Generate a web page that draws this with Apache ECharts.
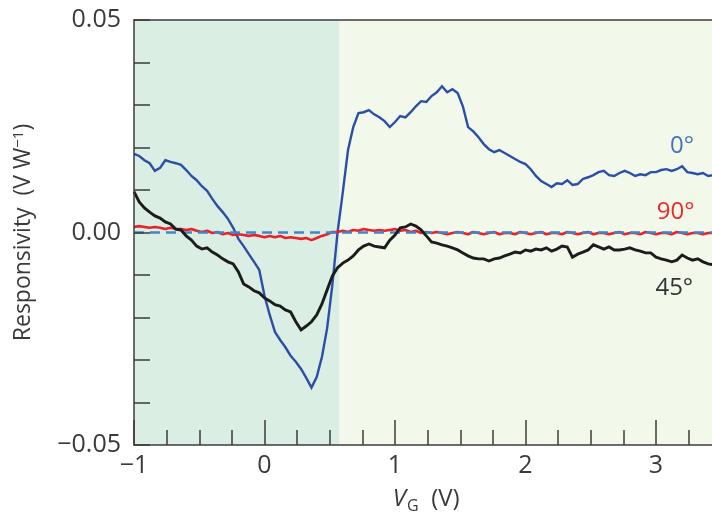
<!DOCTYPE html>
<html>
<head>
<meta charset="utf-8">
<script src="https://cdn.jsdelivr.net/npm/echarts@6/dist/echarts.min.js"></script>
<style>
  html, body { margin: 0; padding: 0; background: #ffffff; overflow: hidden; }
  #frame { width: 712px; height: 522px; overflow: hidden; }
  /* the plot runs past the right edge of the frame, so the canvas is wider */
  #chart { width: 790px; height: 522px; }
</style>
</head>
<body>
<div id="frame"><div id="chart"></div></div>
<script>
// Gate-voltage sweep: samples every 0.04 V starting at -1 V
const VG_START = -1.0;
const VG_STEP = 0.04;

// Responsivity (V/W) for polarization angle 0°
const resp0 = [
  0.0185, 0.0180, 0.0170, 0.0163, 0.0145, 0.0152, 0.0170, 0.0166, 0.0163, 0.0159,
  0.0147, 0.0133, 0.0123, 0.0109, 0.0098, 0.0079, 0.0062, 0.0048, 0.0032, 0.0011,
  -0.0015, -0.0032, -0.0051, -0.0069, -0.0088, -0.0149, -0.0194, -0.0234, -0.0253, -0.0270,
  -0.0290, -0.0304, -0.0321, -0.0342, -0.0365, -0.0340, -0.0293, -0.0225, -0.0123, 0.0001,
  0.0095, 0.0194, 0.0248, 0.0281, 0.0283, 0.0288, 0.0278, 0.0271, 0.0262, 0.0248,
  0.0260, 0.0274, 0.0271, 0.0283, 0.0297, 0.0309, 0.0307, 0.0321, 0.0330, 0.0344,
  0.0330, 0.0337, 0.0328, 0.0297, 0.0248, 0.0238, 0.0224, 0.0208, 0.0196, 0.0189,
  0.0194, 0.0187, 0.0180, 0.0173, 0.0166, 0.0161, 0.0149, 0.0133, 0.0121, 0.0114,
  0.0107, 0.0116, 0.0114, 0.0123, 0.0112, 0.0114, 0.0126, 0.0130, 0.0135, 0.0142,
  0.0145, 0.0135, 0.0133, 0.0140, 0.0145, 0.0140, 0.0133, 0.0137, 0.0135, 0.0142,
  0.0142, 0.0147, 0.0149, 0.0145, 0.0149, 0.0156, 0.0142, 0.0140, 0.0137, 0.0140,
  0.0133, 0.0135
];

// Responsivity (V/W) for polarization angle 45°
const resp45 = [
  0.0096, 0.0072, 0.0058, 0.0048, 0.0039, 0.0034, 0.0025, 0.0020, 0.0008, 0.0006,
  -0.0008, -0.0018, -0.0032, -0.0039, -0.0036, -0.0046, -0.0053, -0.0062, -0.0069, -0.0074,
  -0.0093, -0.0121, -0.0128, -0.0137, -0.0142, -0.0154, -0.0161, -0.0170, -0.0173, -0.0182,
  -0.0187, -0.0210, -0.0229, -0.0220, -0.0210, -0.0194, -0.0168, -0.0135, -0.0102, -0.0083,
  -0.0072, -0.0065, -0.0055, -0.0041, -0.0032, -0.0027, -0.0032, -0.0034, -0.0036, -0.0018,
  -0.0006, 0.0011, 0.0013, 0.0020, 0.0015, 0.0006, -0.0008, -0.0022, -0.0025, -0.0029,
  -0.0032, -0.0036, -0.0041, -0.0048, -0.0055, -0.0060, -0.0062, -0.0062, -0.0067, -0.0062,
  -0.0060, -0.0055, -0.0051, -0.0046, -0.0048, -0.0041, -0.0044, -0.0039, -0.0041, -0.0036,
  -0.0044, -0.0039, -0.0032, -0.0034, -0.0058, -0.0051, -0.0046, -0.0041, -0.0029, -0.0034,
  -0.0039, -0.0034, -0.0041, -0.0041, -0.0039, -0.0036, -0.0041, -0.0044, -0.0048, -0.0048,
  -0.0058, -0.0062, -0.0065, -0.0069, -0.0065, -0.0053, -0.0060, -0.0065, -0.0062, -0.0069,
  -0.0074, -0.0076
];

// Responsivity (V/W) for polarization angle 90°
const resp90 = [
  0.0013, 0.0015, 0.0013, 0.0011, 0.0013, 0.0011, 0.0008, 0.0011, 0.0008, 0.0008,
  0.0006, 0.0008, 0.0004, 0.0001, 0.0004, -0.0001, 0.0001, -0.0004, -0.0001, -0.0006,
  -0.0004, -0.0006, -0.0008, -0.0006, -0.0008, -0.0011, -0.0008, -0.0011, -0.0008, -0.0013,
  -0.0011, -0.0013, -0.0015, -0.0013, -0.0018, -0.0013, -0.0008, -0.0004, 0.0001, 0.0001,
  0.0004, 0.0001, 0.0006, 0.0004, 0.0008, 0.0006, 0.0004, 0.0006, 0.0004, 0.0006,
  0.0008, 0.0004, 0.0006, 0.0001, 0.0004, -0.0001, 0.0001, -0.0001, 0.0001, -0.0001,
  -0.0004, -0.0001, 0.0001, -0.0001, -0.0004, 0.0001, -0.0001, -0.0004, -0.0001, 0.0001,
  -0.0004, -0.0001, -0.0001, -0.0004, 0.0001, -0.0001, -0.0004, -0.0001, 0.0001, -0.0004,
  -0.0001, -0.0001, -0.0004, 0.0001, -0.0001, -0.0004, -0.0001, 0.0001, -0.0004, -0.0001,
  -0.0001, -0.0004, -0.0001, 0.0001, -0.0004, -0.0001, -0.0001, -0.0004, 0.0001, -0.0001,
  -0.0004, -0.0001, -0.0001, -0.0004, 0.0001, -0.0001, -0.0004, -0.0001, -0.0001, -0.0004,
  -0.0001, -0.0001
];

// Zero reference and the two shaded gate-voltage regimes
const zeroLine = [[-1, 0], [4, 0]];
const regimeBounds = [-1, 0.575, 4];

// Curve annotations: [text, V_G, responsivity]
const curveLabels = [
  ['0°', 3.20, 0.0203],
  ['90°', 3.15, 0.0048],
  ['45°', 3.14, -0.0130]
];
const curveLabelColors = ['#4673bd', '#ee2a2a', '#333333'];

const toPairs = (vals) => vals.map((v, i) => [VG_START + i * VG_STEP, v]);
const minus = (s) => String(s).replace('-', '\u2212');

const FONT = '"Open Sans", "Noto Sans", sans-serif';
const AXIS_COLOR = '#3c3c3c';
const TEXT_COLOR = '#3a3a3a';

const chart = echarts.init(document.getElementById('chart'), null, { renderer: 'canvas' });

const option = {
  backgroundColor: '#ffffff',
  animation: false,
  grid: { left: 134, top: 20, width: 652.5, height: 425 },
  xAxis: [
    {
      type: 'value',
      min: -1, max: 4, interval: 1,
      position: 'bottom',
      z: 10,
      name: '{v|V}{sub|G}{t|  (V)}',
      nameLocation: 'middle',
      nameGap: 40,
      nameTextStyle: {
        padding: [0, 68, 0, 0],
        rich: {
          v: { fontFamily: FONT, fontSize: 24, fontStyle: 'italic', color: TEXT_COLOR },
          sub: { fontFamily: FONT, fontSize: 16, color: TEXT_COLOR, padding: [13, 0, 0, 1] },
          t: { fontFamily: FONT, fontSize: 24, color: TEXT_COLOR }
        }
      },
      axisLine: { show: true, onZero: false, lineStyle: { color: AXIS_COLOR, width: 1.5 } },
      axisTick: { show: true, inside: true, length: 25, lineStyle: { color: AXIS_COLOR, width: 1.5 } },
      minorTick: { show: true, splitNumber: 4, length: 15, lineStyle: { color: AXIS_COLOR, width: 1.5 } },
      splitLine: { show: false },
      axisLabel: {
        fontFamily: FONT, fontSize: 25, color: TEXT_COLOR, margin: 8,
        showMaxLabel: false,
        formatter: (v) => minus(v)
      }
    },
    {
      type: 'value',
      min: -1, max: 4,
      position: 'top',
      z: 10,
      axisLine: { show: true, onZero: false, lineStyle: { color: AXIS_COLOR, width: 1.5 } },
      axisTick: { show: false },
      axisLabel: { show: false },
      splitLine: { show: false }
    }
  ],
  yAxis: {
    type: 'value',
    min: -0.05, max: 0.05, interval: 0.05,
    z: 10,
    name: '{a|Responsivity  (V W}{s|\u22121}{a|)}',
    nameLocation: 'middle',
    nameGap: 98,
    nameTextStyle: {
      rich: {
        a: { fontFamily: FONT, fontSize: 23, color: TEXT_COLOR },
        s: { fontFamily: FONT, fontSize: 15, color: TEXT_COLOR, padding: [0, 0, 10, 0] }
      }
    },
    axisLine: { show: true, onZero: false, lineStyle: { color: AXIS_COLOR, width: 1.5 } },
    axisTick: { show: true, inside: true, length: 16, lineStyle: { color: AXIS_COLOR, width: 1.5 } },
    minorTick: { show: true, splitNumber: 5, length: 16, lineStyle: { color: AXIS_COLOR, width: 1.5 } },
    splitLine: { show: false },
    axisLabel: {
      fontFamily: FONT, fontSize: 25, color: TEXT_COLOR, margin: 13,
      formatter: (v) => minus(v.toFixed(2))
    }
  },
  series: [
    {
      name: 'regimes',
      type: 'line',
      data: zeroLine,
      symbol: 'none',
      z: 1,
      lineStyle: { opacity: 0 },
      markArea: {
        silent: true,
        data: [
          [{ xAxis: regimeBounds[0], itemStyle: { color: '#daeee3' } }, { xAxis: regimeBounds[1] }],
          [{ xAxis: regimeBounds[1], itemStyle: { color: '#f2f8ea' } }, { xAxis: regimeBounds[2] }]
        ]
      }
    },
    {
      name: '0°',
      type: 'line',
      data: toPairs(resp0),
      symbol: 'none',
      z: 3,
      lineStyle: { color: '#2b4fa6', width: 2.4, join: 'miter' }
    },
    {
      name: '90°',
      type: 'line',
      data: toPairs(resp90),
      symbol: 'none',
      z: 3,
      lineStyle: { color: '#ec2027', width: 2.6 }
    },
    {
      name: 'zero dashed',
      type: 'line',
      data: zeroLine,
      symbol: 'none',
      z: 4,
      lineStyle: { color: '#3f86c8', width: 2.5, type: [10, 6] }
    },
    {
      name: '45°',
      type: 'line',
      data: toPairs(resp45),
      symbol: 'none',
      z: 5,
      lineStyle: { color: '#1c1c1c', width: 2.9, join: 'miter' }
    },
    {
      name: 'labels',
      type: 'scatter',
      symbolSize: 0,
      z: 6,
      silent: true,
      data: curveLabels.map((c, i) => ({
        value: [c[1], c[2]],
        label: {
          show: true,
          formatter: c[0],
          position: 'inside',
          fontFamily: FONT,
          fontSize: 24,
          color: curveLabelColors[i],
          textBorderWidth: 0,
          opacity: 1
        }
      }))
    }
  ]
};

chart.setOption(option);
</script>
</body>
</html>
